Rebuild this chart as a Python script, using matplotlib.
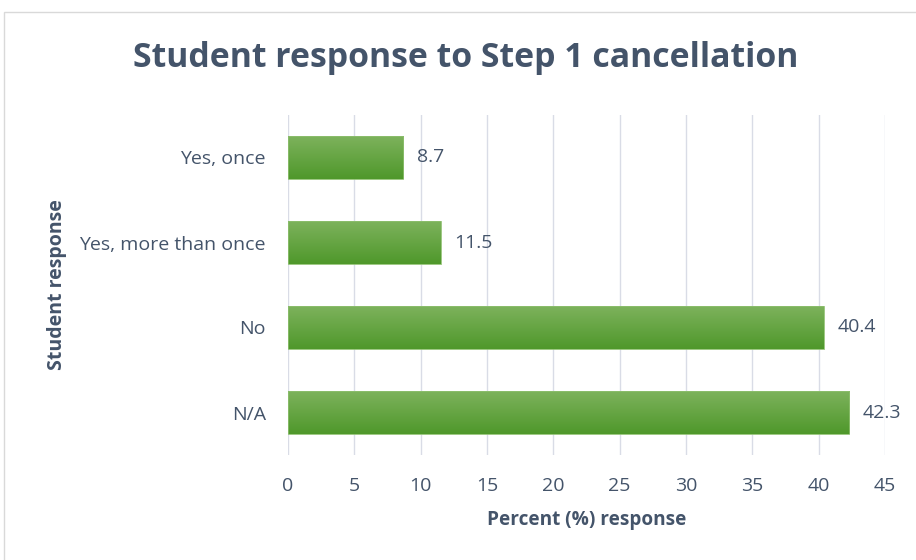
import numpy as np
import matplotlib.pyplot as plt
from matplotlib.patches import Rectangle
from matplotlib.colors import LinearSegmentedColormap

# data
categories = ['Yes, once', 'Yes, more than once', 'No', 'N/A']
percent = [8.7, 11.5, 40.4, 42.3]
xticks = [0, 5, 10, 15, 20, 25, 30, 35, 40, 45]

text_color = '#44546A'
plt.rcParams['font.family'] = ['Open Sans', 'DejaVu Sans']

fig = plt.figure(figsize=(9.16, 5.6), dpi=100)
ax = fig.add_axes([288 / 916, 1 - 455 / 560, (885 - 288) / 916, 340 / 560])

# chart border
fig.patches.append(Rectangle((4 / 916, -0.01), 1.0, 1 - 12 / 560 + 0.01,
                             transform=fig.transFigure, fill=False,
                             edgecolor='#D9D9D9', linewidth=1.0))

y = np.arange(len(categories))
bars = ax.barh(y, percent, height=0.5, color='none', edgecolor='#8DBF6E',
               linewidth=0.6, zorder=3)

# vertical gradient fill, light at the top, darker at the bottom
grad = np.linspace(0, 1, 100).reshape(-1, 1)
cmap = LinearSegmentedColormap.from_list('g', ['#4F982B', '#7DB25C'])
for b in bars:
    x0, y0 = b.get_x(), b.get_y()
    w, h = b.get_width(), b.get_height()
    im = ax.imshow(grad, extent=[x0, x0 + w, y0, y0 + h], aspect='auto',
                   cmap=cmap, origin='upper', zorder=2)
    im.set_clip_path(b)

for yi, v in zip(y, percent):
    ax.text(v + 1.0, yi, f'{v}', va='center', ha='left', fontsize=14,
            color=text_color)

ax.set_xlim(0, 45)
ax.set_ylim(len(categories) - 0.5, -0.5)
ax.set_xticks(xticks)
ax.set_yticks(y)
ax.set_yticklabels(categories)
ax.grid(axis='x', color='#D9DCE6', linewidth=1.0, zorder=0)
ax.set_axisbelow(True)
for s in ax.spines.values():
    s.set_visible(False)
ax.tick_params(axis='both', length=0, labelsize=14, labelcolor=text_color)
ax.tick_params(axis='x', pad=16)
ax.tick_params(axis='y', pad=16)

ax.set_xlabel('Percent (%) response', fontsize=13.7, fontweight='bold',
              color=text_color, labelpad=11)
fig.text(57 / 916, 1 - 285 / 560, 'Student response', rotation=90,
         ha='center', va='center', fontsize=14, fontweight='bold',
         color=text_color)
fig.text(466 / 916, 1 - 58 / 560, 'Student response to Step 1 cancellation',
         ha='center', va='center', fontsize=24.4, fontweight='bold',
         color=text_color)

fig.savefig('out.png', dpi=100)
